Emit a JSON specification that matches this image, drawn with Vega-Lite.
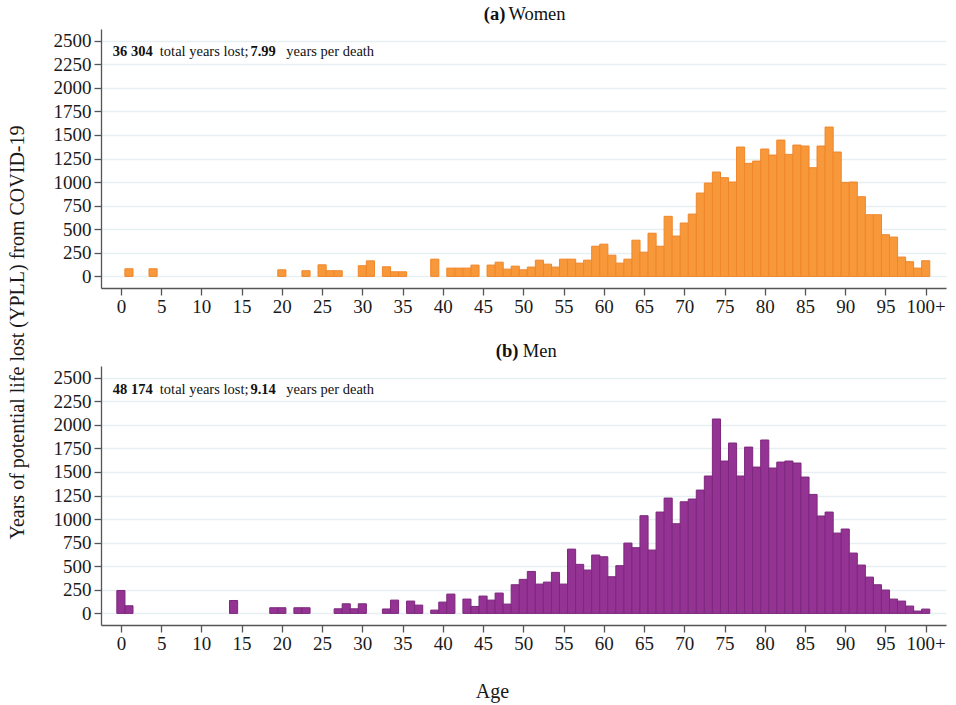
{
  "$schema": "https://vega.github.io/schema/vega-lite/v6.json",
  "background": "white",
  "padding": {"left": 7, "top": 4, "right": 5, "bottom": 5},
  "config": {
    "font": "Liberation Serif",
    "view": {"stroke": null},
    "axis": {
      "labelFont": "Liberation Serif",
      "titleFont": "Liberation Serif",
      "labelFontSize": 19,
      "titleFontSize": 20,
      "titleFontWeight": "normal",
      "labelColor": "#1a1a1a",
      "titleColor": "#1a1a1a",
      "domainColor": "#555555",
      "tickColor": "#555555",
      "domainWidth": 1.3,
      "tickWidth": 1.3,
      "tickSize": 7,
      "gridColor": "#e6eff2",
      "gridWidth": 1.6
    }
  },
  "datasets": {
    "yll": [
      {"sex": "Women", "age": 1, "yll": 81}, {"sex": "Women", "age": 4, "yll": 81},
      {"sex": "Women", "age": 20, "yll": 70}, {"sex": "Women", "age": 23, "yll": 60},
      {"sex": "Women", "age": 25, "yll": 123}, {"sex": "Women", "age": 26, "yll": 60},
      {"sex": "Women", "age": 27, "yll": 60}, {"sex": "Women", "age": 30, "yll": 113},
      {"sex": "Women", "age": 31, "yll": 165}, {"sex": "Women", "age": 33, "yll": 102},
      {"sex": "Women", "age": 34, "yll": 49}, {"sex": "Women", "age": 35, "yll": 49},
      {"sex": "Women", "age": 39, "yll": 183}, {"sex": "Women", "age": 41, "yll": 88},
      {"sex": "Women", "age": 42, "yll": 88}, {"sex": "Women", "age": 43, "yll": 88},
      {"sex": "Women", "age": 44, "yll": 120}, {"sex": "Women", "age": 46, "yll": 120},
      {"sex": "Women", "age": 47, "yll": 151}, {"sex": "Women", "age": 48, "yll": 77},
      {"sex": "Women", "age": 49, "yll": 109}, {"sex": "Women", "age": 50, "yll": 70},
      {"sex": "Women", "age": 51, "yll": 99}, {"sex": "Women", "age": 52, "yll": 172},
      {"sex": "Women", "age": 53, "yll": 130}, {"sex": "Women", "age": 54, "yll": 99},
      {"sex": "Women", "age": 55, "yll": 183}, {"sex": "Women", "age": 56, "yll": 183},
      {"sex": "Women", "age": 57, "yll": 141}, {"sex": "Women", "age": 58, "yll": 172},
      {"sex": "Women", "age": 59, "yll": 320}, {"sex": "Women", "age": 60, "yll": 342},
      {"sex": "Women", "age": 61, "yll": 225}, {"sex": "Women", "age": 62, "yll": 141},
      {"sex": "Women", "age": 63, "yll": 183}, {"sex": "Women", "age": 64, "yll": 384},
      {"sex": "Women", "age": 65, "yll": 257}, {"sex": "Women", "age": 66, "yll": 458},
      {"sex": "Women", "age": 67, "yll": 320}, {"sex": "Women", "age": 68, "yll": 637},
      {"sex": "Women", "age": 69, "yll": 428}, {"sex": "Women", "age": 70, "yll": 566},
      {"sex": "Women", "age": 71, "yll": 661}, {"sex": "Women", "age": 72, "yll": 884},
      {"sex": "Women", "age": 73, "yll": 990}, {"sex": "Women", "age": 74, "yll": 1107},
      {"sex": "Women", "age": 75, "yll": 1047}, {"sex": "Women", "age": 76, "yll": 1001},
      {"sex": "Women", "age": 77, "yll": 1372}, {"sex": "Women", "age": 78, "yll": 1199},
      {"sex": "Women", "age": 79, "yll": 1223}, {"sex": "Women", "age": 80, "yll": 1351},
      {"sex": "Women", "age": 81, "yll": 1287}, {"sex": "Women", "age": 82, "yll": 1446},
      {"sex": "Women", "age": 83, "yll": 1294}, {"sex": "Women", "age": 84, "yll": 1393},
      {"sex": "Women", "age": 85, "yll": 1383}, {"sex": "Women", "age": 86, "yll": 1153},
      {"sex": "Women", "age": 87, "yll": 1383}, {"sex": "Women", "age": 88, "yll": 1584},
      {"sex": "Women", "age": 89, "yll": 1319}, {"sex": "Women", "age": 90, "yll": 997},
      {"sex": "Women", "age": 91, "yll": 1001}, {"sex": "Women", "age": 92, "yll": 845},
      {"sex": "Women", "age": 93, "yll": 654}, {"sex": "Women", "age": 94, "yll": 654},
      {"sex": "Women", "age": 95, "yll": 442}, {"sex": "Women", "age": 96, "yll": 417},
      {"sex": "Women", "age": 97, "yll": 205}, {"sex": "Women", "age": 98, "yll": 156},
      {"sex": "Women", "age": 99, "yll": 88}, {"sex": "Women", "age": 100, "yll": 166},
      {"sex": "Men", "age": 0, "yll": 243}, {"sex": "Men", "age": 1, "yll": 81},
      {"sex": "Men", "age": 14, "yll": 137}, {"sex": "Men", "age": 19, "yll": 60},
      {"sex": "Men", "age": 20, "yll": 60}, {"sex": "Men", "age": 22, "yll": 60},
      {"sex": "Men", "age": 23, "yll": 60}, {"sex": "Men", "age": 27, "yll": 49},
      {"sex": "Men", "age": 28, "yll": 102}, {"sex": "Men", "age": 29, "yll": 49},
      {"sex": "Men", "age": 30, "yll": 102}, {"sex": "Men", "age": 33, "yll": 47},
      {"sex": "Men", "age": 34, "yll": 141}, {"sex": "Men", "age": 36, "yll": 131},
      {"sex": "Men", "age": 37, "yll": 88}, {"sex": "Men", "age": 39, "yll": 35},
      {"sex": "Men", "age": 40, "yll": 120}, {"sex": "Men", "age": 41, "yll": 205},
      {"sex": "Men", "age": 43, "yll": 152}, {"sex": "Men", "age": 44, "yll": 74},
      {"sex": "Men", "age": 45, "yll": 184}, {"sex": "Men", "age": 46, "yll": 141},
      {"sex": "Men", "age": 47, "yll": 216}, {"sex": "Men", "age": 48, "yll": 99},
      {"sex": "Men", "age": 49, "yll": 304}, {"sex": "Men", "age": 50, "yll": 361},
      {"sex": "Men", "age": 51, "yll": 445}, {"sex": "Men", "age": 52, "yll": 311},
      {"sex": "Men", "age": 53, "yll": 332}, {"sex": "Men", "age": 54, "yll": 435},
      {"sex": "Men", "age": 55, "yll": 311}, {"sex": "Men", "age": 56, "yll": 682},
      {"sex": "Men", "age": 57, "yll": 520}, {"sex": "Men", "age": 58, "yll": 460},
      {"sex": "Men", "age": 59, "yll": 619}, {"sex": "Men", "age": 60, "yll": 601},
      {"sex": "Men", "age": 61, "yll": 389}, {"sex": "Men", "age": 62, "yll": 506},
      {"sex": "Men", "age": 63, "yll": 746}, {"sex": "Men", "age": 64, "yll": 697},
      {"sex": "Men", "age": 65, "yll": 1036}, {"sex": "Men", "age": 66, "yll": 672},
      {"sex": "Men", "age": 67, "yll": 1075}, {"sex": "Men", "age": 68, "yll": 1223},
      {"sex": "Men", "age": 69, "yll": 951}, {"sex": "Men", "age": 70, "yll": 1184},
      {"sex": "Men", "age": 71, "yll": 1213}, {"sex": "Men", "age": 72, "yll": 1308},
      {"sex": "Men", "age": 73, "yll": 1457}, {"sex": "Men", "age": 74, "yll": 2062},
      {"sex": "Men", "age": 75, "yll": 1616}, {"sex": "Men", "age": 76, "yll": 1807},
      {"sex": "Men", "age": 77, "yll": 1457}, {"sex": "Men", "age": 78, "yll": 1764},
      {"sex": "Men", "age": 79, "yll": 1552}, {"sex": "Men", "age": 80, "yll": 1839},
      {"sex": "Men", "age": 81, "yll": 1542}, {"sex": "Men", "age": 82, "yll": 1605},
      {"sex": "Men", "age": 83, "yll": 1616}, {"sex": "Men", "age": 84, "yll": 1595},
      {"sex": "Men", "age": 85, "yll": 1446}, {"sex": "Men", "age": 86, "yll": 1262},
      {"sex": "Men", "age": 87, "yll": 1033}, {"sex": "Men", "age": 88, "yll": 1075},
      {"sex": "Men", "age": 89, "yll": 852}, {"sex": "Men", "age": 90, "yll": 895},
      {"sex": "Men", "age": 91, "yll": 640}, {"sex": "Men", "age": 92, "yll": 513},
      {"sex": "Men", "age": 93, "yll": 385}, {"sex": "Men", "age": 94, "yll": 304},
      {"sex": "Men", "age": 95, "yll": 248}, {"sex": "Men", "age": 96, "yll": 152},
      {"sex": "Men", "age": 97, "yll": 131}, {"sex": "Men", "age": 98, "yll": 78},
      {"sex": "Men", "age": 99, "yll": 25}, {"sex": "Men", "age": 100, "yll": 46}
    ],
    "notes": [
      {"sex": "Women", "tag": "(a)", "name": "Women", "total": "36 304", "totalText": "total years lost;", "per": "7.99", "perText": "years per death"},
      {"sex": "Men", "tag": "(b)", "name": "Men", "total": "48 174", "totalText": "total years lost;", "per": "9.14", "perText": "years per death"}
    ]
  },
  "bounds": "flush",
  "spacing": 78,
  "vconcat": [
    {
      "width": 845,
      "height": 259,
      "layer": [
        {
          "data": {"name": "yll"},
          "transform": [{"filter": "datum.sex == 'Women'"}],
          "mark": {"type": "bar", "width": 8.13, "fill": "#f7993b", "stroke": "#f0862a", "strokeWidth": 1},
          "encoding": {
            "x": {"field": "age", "type": "quantitative",
              "scale": {"domain": [-1.85, 101.9], "nice": false, "zero": false},
              "axis": {"values": [0,5,10,15,20,25,30,35,40,45,50,55,60,65,70,75,80,85,90,95,100], "labelExpr": "datum.value == 100 ? '100+' : datum.label", "title": null, "grid": false, "labelPadding": 2, "labelFlush": false, "labelOverlap": false}},
            "y": {"field": "yll", "type": "quantitative",
              "scale": {"domain": [-123, 2624], "nice": false, "zero": false},
              "axis": {"values": [0,250,500,750,1000,1250,1500,1750,2000,2250,2500], "format": "d", "grid": true, "labelPadding": 3, "labelOverlap": false,
                "title": "Years of potential life lost (YPLL) from COVID-19",
                "titleAngle": -90, "titleX": -84, "titleY": 303, "titleAlign": "center", "titleBaseline": "middle"}}
          }
        },
        {
          "data": {"name": "notes"}, "transform": [{"filter": "datum.sex == 'Women'"}],
          "layer": [
            {"mark": {"type": "text", "align": "left", "baseline": "alphabetic", "fontSize": 14.5, "fontWeight": "bold", "color": "#111"},
             "encoding": {"text": {"field": "total"}}},
            {"mark": {"type": "text", "align": "left", "baseline": "alphabetic", "fontSize": 14.5, "dx": 47, "color": "#111"},
             "encoding": {"text": {"field": "totalText"}}},
            {"mark": {"type": "text", "align": "left", "baseline": "alphabetic", "fontSize": 14.5, "fontWeight": "bold", "dx": 137.6, "color": "#111"},
             "encoding": {"text": {"field": "per"}}},
            {"mark": {"type": "text", "align": "left", "baseline": "alphabetic", "fontSize": 14.5, "dx": 173.5, "color": "#111"},
             "encoding": {"text": {"field": "perText"}}}
          ],
          "encoding": {
            "x": {"datum": -1.0, "type": "quantitative",
              "axis": {"values": [0,5,10,15,20,25,30,35,40,45,50,55,60,65,70,75,80,85,90,95,100], "labelExpr": "datum.value == 100 ? '100+' : datum.label", "title": null, "grid": false, "labelPadding": 2, "labelFlush": false, "labelOverlap": false}},
            "y": {"datum": 2341, "type": "quantitative",
              "axis": {"values": [0,250,500,750,1000,1250,1500,1750,2000,2250,2500], "format": "d", "grid": true, "labelPadding": 3, "labelOverlap": false,
                "title": "Years of potential life lost (YPLL) from COVID-19",
                "titleAngle": -90, "titleX": -84, "titleY": 303, "titleAlign": "center", "titleBaseline": "middle"}}
          }
        },
        {
          "data": {"name": "notes"}, "transform": [{"filter": "datum.sex == 'Women'"}],
          "layer": [
            {"mark": {"type": "text", "align": "right", "baseline": "alphabetic", "fontSize": 18.5, "fontWeight": "bold", "dx": -17.9, "color": "#111"},
             "encoding": {"text": {"field": "tag"}}},
            {"mark": {"type": "text", "align": "left", "baseline": "alphabetic", "fontSize": 18.5, "dx": -14.9, "color": "#111"},
             "encoding": {"text": {"field": "name"}}}
          ],
          "encoding": {
            "x": {"datum": 50, "type": "quantitative",
              "axis": {"values": [0,5,10,15,20,25,30,35,40,45,50,55,60,65,70,75,80,85,90,95,100], "labelExpr": "datum.value == 100 ? '100+' : datum.label", "title": null, "grid": false, "labelPadding": 2, "labelFlush": false, "labelOverlap": false}},
            "y": {"datum": 2723, "type": "quantitative",
              "axis": {"values": [0,250,500,750,1000,1250,1500,1750,2000,2250,2500], "format": "d", "grid": true, "labelPadding": 3, "labelOverlap": false,
                "title": "Years of potential life lost (YPLL) from COVID-19",
                "titleAngle": -90, "titleX": -84, "titleY": 303, "titleAlign": "center", "titleBaseline": "middle"}}
          }
        }
      ]
    },
    {
      "width": 845,
      "height": 259,
      "layer": [
        {
          "data": {"name": "yll"},
          "transform": [{"filter": "datum.sex == 'Men'"}],
          "mark": {"type": "bar", "width": 8.13, "fill": "#943393", "stroke": "#7c287c", "strokeWidth": 1},
          "encoding": {
            "x": {"field": "age", "type": "quantitative",
              "scale": {"domain": [-1.85, 101.9], "nice": false, "zero": false},
              "axis": {"values": [0,5,10,15,20,25,30,35,40,45,50,55,60,65,70,75,80,85,90,95,100], "labelExpr": "datum.value == 100 ? '100+' : datum.label", "title": "Age", "grid": false, "labelPadding": 2, "labelFlush": false, "labelOverlap": false,
                "titleX": 391, "titleY": 72, "titleAlign": "center", "titleBaseline": "alphabetic"}},
            "y": {"field": "yll", "type": "quantitative",
              "scale": {"domain": [-123, 2624], "nice": false, "zero": false},
              "axis": {"values": [0,250,500,750,1000,1250,1500,1750,2000,2250,2500], "format": "d", "grid": true, "labelPadding": 3, "labelOverlap": false, "title": null}}
          }
        },
        {
          "data": {"name": "notes"}, "transform": [{"filter": "datum.sex == 'Men'"}],
          "layer": [
            {"mark": {"type": "text", "align": "left", "baseline": "alphabetic", "fontSize": 14.5, "fontWeight": "bold", "color": "#111"},
             "encoding": {"text": {"field": "total"}}},
            {"mark": {"type": "text", "align": "left", "baseline": "alphabetic", "fontSize": 14.5, "dx": 47, "color": "#111"},
             "encoding": {"text": {"field": "totalText"}}},
            {"mark": {"type": "text", "align": "left", "baseline": "alphabetic", "fontSize": 14.5, "fontWeight": "bold", "dx": 137.6, "color": "#111"},
             "encoding": {"text": {"field": "per"}}},
            {"mark": {"type": "text", "align": "left", "baseline": "alphabetic", "fontSize": 14.5, "dx": 173.5, "color": "#111"},
             "encoding": {"text": {"field": "perText"}}}
          ],
          "encoding": {
            "x": {"datum": -1.0, "type": "quantitative",
              "axis": {"values": [0,5,10,15,20,25,30,35,40,45,50,55,60,65,70,75,80,85,90,95,100], "labelExpr": "datum.value == 100 ? '100+' : datum.label", "title": "Age", "grid": false, "labelPadding": 2, "labelFlush": false, "labelOverlap": false,
                "titleX": 391, "titleY": 72, "titleAlign": "center", "titleBaseline": "alphabetic"}},
            "y": {"datum": 2330, "type": "quantitative",
              "axis": {"values": [0,250,500,750,1000,1250,1500,1750,2000,2250,2500], "format": "d", "grid": true, "labelPadding": 3, "labelOverlap": false, "title": null}}
          }
        },
        {
          "data": {"name": "notes"}, "transform": [{"filter": "datum.sex == 'Men'"}],
          "layer": [
            {"mark": {"type": "text", "align": "right", "baseline": "alphabetic", "fontSize": 18.5, "fontWeight": "bold", "dx": -4.9, "color": "#111"},
             "encoding": {"text": {"field": "tag"}}},
            {"mark": {"type": "text", "align": "left", "baseline": "alphabetic", "fontSize": 18.5, "dx": -0.5, "color": "#111"},
             "encoding": {"text": {"field": "name"}}}
          ],
          "encoding": {
            "x": {"datum": 50, "type": "quantitative",
              "axis": {"values": [0,5,10,15,20,25,30,35,40,45,50,55,60,65,70,75,80,85,90,95,100], "labelExpr": "datum.value == 100 ? '100+' : datum.label", "title": "Age", "grid": false, "labelPadding": 2, "labelFlush": false, "labelOverlap": false,
                "titleX": 391, "titleY": 72, "titleAlign": "center", "titleBaseline": "alphabetic"}},
            "y": {"datum": 2723, "type": "quantitative",
              "axis": {"values": [0,250,500,750,1000,1250,1500,1750,2000,2250,2500], "format": "d", "grid": true, "labelPadding": 3, "labelOverlap": false, "title": null}}
          }
        }
      ]
    }
  ]
}
